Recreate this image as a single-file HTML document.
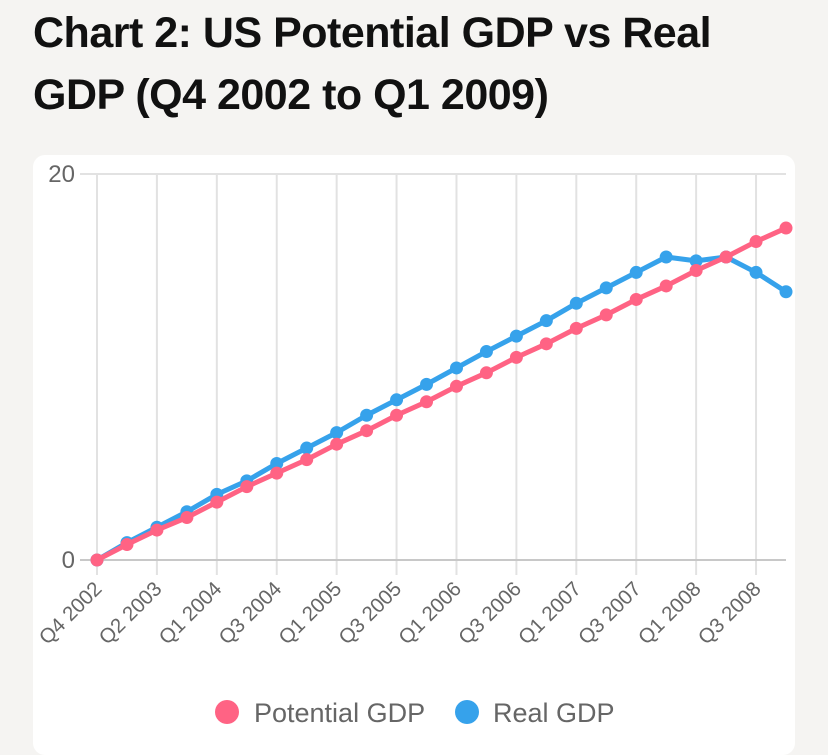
<!DOCTYPE html>
<html><head><meta charset="utf-8"><style>
body{margin:0;background:#f5f4f2;width:828px;height:744px;overflow:hidden;font-family:"Liberation Sans",sans-serif}
h1{position:absolute;left:33px;top:2px;margin:0;font-size:43px;line-height:62px;font-weight:bold;color:#111;letter-spacing:-0.5px}
#card{position:absolute;left:33px;top:155px;width:762px;height:600px;background:#fff;border-radius:12px}
svg{position:absolute;left:0;top:0}
</style></head><body>
<h1>Chart 2: US Potential GDP vs Real<br>GDP (Q4 2002 to Q1 2009)</h1>
<div id="card"></div>
<svg id="chart" width="828" height="744"></svg>
<script>
const categories=["Q4 2002","Q1 2003","Q2 2003","Q4 2003","Q1 2004","Q2 2004","Q3 2004","Q4 2004","Q1 2005","Q2 2005","Q3 2005","Q4 2005","Q1 2006","Q2 2006","Q3 2006","Q4 2006","Q1 2007","Q2 2007","Q3 2007","Q4 2007","Q1 2008","Q2 2008","Q3 2008","Q1 2009"];
const potentialGdp=[0,0.8,1.55,2.2,3.0,3.8,4.5,5.2,6.0,6.7,7.5,8.2,9.0,9.7,10.5,11.2,12.0,12.7,13.5,14.2,15.0,15.7,16.5,17.2];
const realGdp=[0,0.9,1.7,2.5,3.4,4.1,5.0,5.8,6.6,7.5,8.3,9.1,9.95,10.8,11.6,12.4,13.3,14.1,14.9,15.7,15.5,15.7,14.9,13.9];
const yTicks=[0,20];
const svg=document.getElementById('chart');const NS='http://www.w3.org/2000/svg';
const X0=97,X1=786,Y0=560,Y1=174;
const xs=i=>X0+i*(X1-X0)/(categories.length-1);
const ys=v=>Y0+(v-yTicks[0])*(Y1-Y0)/(yTicks[yTicks.length-1]-yTicks[0]);
function mk(t,a,p){const e=document.createElementNS(NS,t);for(const k in a)e.setAttribute(k,a[k]);(p||svg).appendChild(e);return e;}
categories.forEach((c,i)=>{if(i%2)return;const x=xs(i);
const g=mk('line',{x1:x,y1:Y1,x2:x,y2:Y0+15,stroke:'#e2e2e2','stroke-width':2});


const t=mk('text',{x:x+6,y:Y0+30,'text-anchor':'end','font-size':20.5,fill:'#666',transform:`rotate(-45 ${x+6} ${Y0+30})`});t.textContent=c;

});
yTicks.forEach(v=>{const y=ys(v);
const g=mk('line',{x1:80,y1:y,x2:X1,y2:y,stroke:v===0?'#c8c8c8':'#e2e2e2','stroke-width':2});


const t=mk('text',{x:75,y:y+8,'text-anchor':'end','font-size':24,fill:'#666'});t.textContent=v;

});
function series(vals,col,name){
const p=mk('polyline',{points:vals.map((v,i)=>xs(i)+','+ys(v)).join(' '),fill:'none',stroke:col,'stroke-width':5,'stroke-linejoin':'round'});


vals.forEach((v,i)=>{const c=mk('circle',{cx:xs(i),cy:ys(v),r:6.5,fill:col});

});}
series(realGdp,'#36a2eb','real-gdp');
series(potentialGdp,'#ff6384','potential-gdp');
const l1=mk('circle',{cx:227,cy:712,r:12,fill:'#ff6384'});


const t1=mk('text',{x:254,y:722,'font-size':27,fill:'#666'});t1.textContent='Potential GDP';


const l2=mk('circle',{cx:467,cy:712,r:12,fill:'#36a2eb'});


const t2=mk('text',{x:493,y:722,'font-size':27,fill:'#666'});t2.textContent='Real GDP';


</script>
</body></html>
